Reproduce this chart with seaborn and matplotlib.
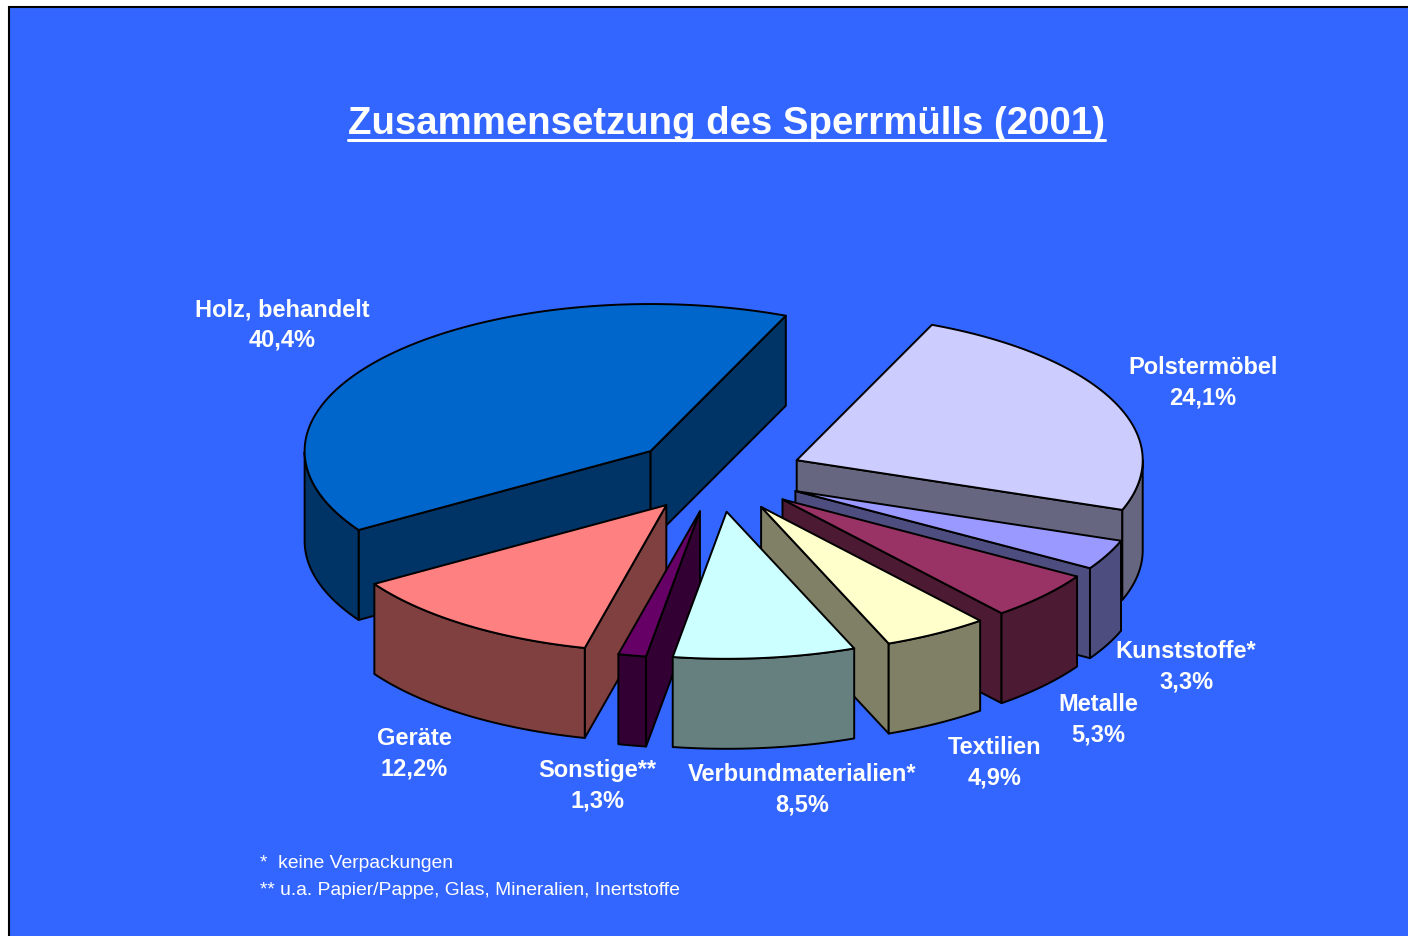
import numpy as np
import matplotlib
matplotlib.use("Agg")
import matplotlib.pyplot as plt
from matplotlib.patches import Polygon
import seaborn as sns

sns.set_theme(style="white")
plt.rcParams['font.family'] = ['Liberation Sans', 'DejaVu Sans']

# Data
categories = ["Polstermöbel", "Kunststoffe*", "Metalle", "Textilien",
              "Verbundmaterialien*", "Sonstige**", "Geräte", "Holz, behandelt"]
shares = [24.1, 3.3, 5.3, 4.9, 8.5, 1.3, 12.2, 40.4]
top_colors = ["#CCCCFF", "#9999FF", "#993366", "#FFFFCC",
              "#CCFFFF", "#660066", "#FF8080", "#0066CC"]
title = "Zusammensetzung des Sperrmülls (2001)"
footnotes = ["*  keine Verpackungen", "** u.a. Papier/Pappe, Glas, Mineralien, Inertstoffe"]

# Label centres in pixels, same order as categories
label_pos = [(1203, 383), (1186, 667), (1098, 720), (995, 763),
             (802, 790), (597, 786), (414, 754), (282, 325)]

# Look of the fake 3D pie (pixels)
CX, CY = 717, 476
RADIUS = 346
TILT = 0.425
EXPLODE = 87
DEPTH = 90
START = 67
BG = "#3366FF"


def darker(color):
    return tuple(0.5 * c for c in matplotlib.colors.to_rgb(color))


def project(theta, r, ox, oy):
    return ox + r * np.cos(theta), oy - TILT * r * np.sin(theta)


def draw_slice(ax, a0, a1, color, zorder):
    # a0 > a1, the pie runs clockwise
    mid = np.radians((a0 + a1) / 2)
    ox, oy = project(mid, EXPLODE, CX, CY)
    t0, t1 = np.radians(a0), np.radians(a1)
    side = darker(color)
    style = dict(edgecolor="black", linewidth=1.4, joinstyle="round", zorder=zorder)

    # flat side faces, only the ones turned to the viewer
    for t, sign in ((t0, 1), (t1, -1)):
        if np.sin(t + sign * np.pi / 2) < 0:
            x, y = project(t, RADIUS, ox, oy)
            ax.add_patch(Polygon([(ox, oy), (x, y), (x, y + DEPTH), (ox, oy + DEPTH)],
                                 facecolor=side, **style))

    # outer wall, the front part of the rim
    ts = np.linspace(t0, t1, 300)
    ts = ts[np.sin(ts) < 0]
    if len(ts):
        x, y = project(ts, RADIUS, ox, oy)
        pts = np.r_[np.c_[x, y], np.c_[x, y + DEPTH][::-1]]
        ax.add_patch(Polygon(pts, facecolor=side, **style))

    # top face
    ts = np.linspace(t0, t1, 300)
    x, y = project(ts, RADIUS, ox, oy)
    ax.add_patch(Polygon(np.r_[[(ox, oy)], np.c_[x, y]], facecolor=color, **style))


fig = plt.figure(figsize=(14.08, 9.37), dpi=100, facecolor="white")
ax = fig.add_axes([0, 0, 1, 1])
ax.set_xlim(0, 1408)
ax.set_ylim(937, 0)
ax.axis("off")

# blue panel with its black border on the left and top
ax.add_patch(plt.Rectangle((9, 8), 1402, 932, facecolor=BG, edgecolor="black", linewidth=1.5))

angles = START - np.r_[0, np.cumsum(shares)] * 3.6
mids = (angles[:-1] + angles[1:]) / 2
draw_order = np.argsort(-np.sin(np.radians(mids)))
for z, i in enumerate(draw_order):
    draw_slice(ax, angles[i], angles[i + 1], top_colors[i], 2 + z)

for name, share, (x, y) in zip(categories, shares, label_pos):
    txt = "%s\n%s%%" % (name, str(share).replace(".", ","))
    ax.text(x, y, txt, color="white", fontsize=17, fontweight="bold", ha="center",
            va="center", linespacing=1.42, zorder=20)

t = ax.text(726.5, 124, title, color="white", fontsize=27.6, fontweight="bold",
            ha="center", va="center", zorder=20)
fig.canvas.draw()
bb = t.get_window_extent().transformed(ax.transData.inverted())
ax.plot([bb.x0, bb.x1], [141, 141], color="white", linewidth=2.2, zorder=20)

ax.text(260, 864, footnotes[0], color="white", fontsize=13.9, va="center", zorder=20)
ax.text(260, 891, footnotes[1], color="white", fontsize=13.9, va="center", zorder=20)

sns.despine(ax=ax, left=True, bottom=True)
fig.savefig("out.png", dpi=100, facecolor="white")
